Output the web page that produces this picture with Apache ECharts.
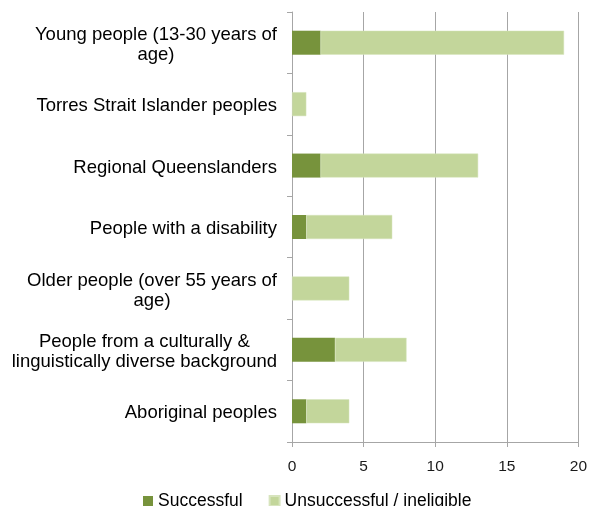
<!DOCTYPE html>
<html>
<head>
<meta charset="utf-8">
<script src="https://cdn.jsdelivr.net/npm/echarts@6/dist/echarts.min.js"></script>
<style>html,body{margin:0;padding:0;background:#fff}#c{width:590px;height:506px}</style>
</head>
<body>
<div id="c"></div>
<script>
// Category labels, split into lines as in the original chart
const categoryLines = [
  ["Young people (13-30 years of", "age)"],
  ["Torres Strait Islander peoples"],
  ["Regional Queenslanders"],
  ["People with a disability"],
  ["Older people (over 55 years of", "age)"],
  ["People from a culturally &", "linguistically diverse background"],
  ["Aboriginal peoples"]
];
const categories = categoryLines.map(l => l.join(' '));
const successful = [2, 0, 2, 1, 0, 3, 1];
const unsuccessful = [17, 1, 11, 6, 4, 5, 3];
const xTicks = [0, 5, 10, 15, 20];

const FONT = "'Liberation Sans', Arial, sans-serif";
const LABEL_SIZE = 18.5;

const chart = echarts.init(document.getElementById('c'));
chart.setOption({
  animation: false,
  textStyle: { fontFamily: FONT },
  grid: { left: 292, right: 9, top: 12, bottom: 64, containLabel: false },
  legend: {
    top: 487, left: 138, itemWidth: 10, itemHeight: 10, itemGap: 26,
    icon: 'rect',
    textStyle: { fontSize: 17.5, lineHeight: 18, color: '#000', fontFamily: FONT },
    data: ['Successful', 'Unsuccessful / ineligible']
  },
  xAxis: {
    type: 'value', min: xTicks[0], max: xTicks[xTicks.length - 1], interval: 5,
    axisLine: { show: true, lineStyle: { color: '#A6A6A6', width: 1 } },
    axisTick: { show: true, length: 5, lineStyle: { color: '#A6A6A6' } },
    axisLabel: { fontSize: 15.5, color: '#1a1a1a', margin: 17 },
    splitLine: { show: true, lineStyle: { color: '#A6A6A6', width: 1 } }
  },
  yAxis: {
    type: 'category', data: categories, inverse: true,
    axisLine: { show: true, lineStyle: { color: '#A6A6A6', width: 1 } },
    axisTick: { show: true, length: 5, lineStyle: { color: '#A6A6A6' } },
    axisLabel: {
      margin: 15, align: 'right', padding: [4, 0, 0, 0],
      formatter: (v, i) => categoryLines[i].map(l => '{c|' + l + '}').join('\n'),
      rich: {
        c: { fontSize: LABEL_SIZE, lineHeight: 20, color: '#000', align: 'center', fontFamily: FONT }
      }
    }
  },
  series: [
    {
      name: 'Successful', type: 'bar', stack: 'a', data: successful,
      barWidth: 24, itemStyle: { color: '#77933C' }
    },
    {
      name: 'Unsuccessful / ineligible', type: 'bar', stack: 'a', data: unsuccessful,
      barWidth: 24, itemStyle: { color: '#C3D69B', borderColor: '#D7E4BD', borderWidth: 0.5 }
    }
  ]
});
</script>
</body>
</html>
